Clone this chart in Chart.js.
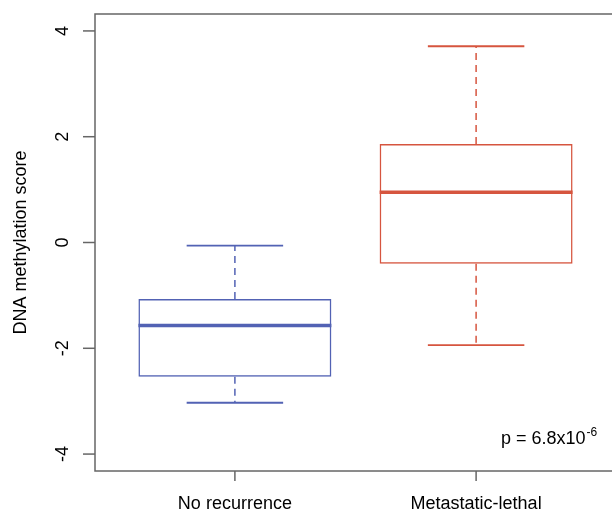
<!DOCTYPE html>
<html>
<head>
<meta charset="utf-8">
<script src="https://cdn.jsdelivr.net/npm/chart.js@4"></script>
<style>
  html, body { margin: 0; padding: 0; background: #fff; overflow: hidden; }
  #wrap { width: 640px; height: 513px; }
</style>
</head>
<body>
<div id="wrap"><canvas id="box" width="640" height="513"></canvas></div>
<script>
// boxplot values
const groups = ['No recurrence', 'Metastatic-lethal'];
const groupX = [1, 2];
const whiskerLow = [-3.03, -1.94];
const q1 = [-2.54, -0.40];
const median = [-1.57, 0.95];
const q3 = [-1.07, 1.86];
const whiskerHigh = [-0.06, 3.71];
const yTicks = [-4, -2, 0, 2, 4];
const colors = ['#5262b4', '#d6553f'];

const FONT = '"Liberation Sans", Arial, Helvetica, sans-serif';
const AXIS = '#666666';

// R-style frame, ticks, whiskers, medians and labels
const boxplotExtras = {
  id: 'boxplotExtras',
  afterDatasetsDraw(chart){
    const ctx = chart.ctx, a = chart.chartArea;
    const xs = chart.scales.x, ys = chart.scales.y;
    ctx.save();

    // whiskers + caps + medians
    groupX.forEach((gx, i)=>{
      const cx = xs.getPixelForValue(gx);
      const capL = xs.getPixelForValue(gx - 0.2), capR = xs.getPixelForValue(gx + 0.2);
      const boxL = xs.getPixelForValue(gx - 0.4), boxR = xs.getPixelForValue(gx + 0.4);
      ctx.strokeStyle = colors[i];
      ctx.lineWidth = 1.5;
      ctx.setLineDash([7, 5]);
      ctx.beginPath();
      ctx.moveTo(cx, ys.getPixelForValue(q3[i])); ctx.lineTo(cx, ys.getPixelForValue(whiskerHigh[i]));
      ctx.moveTo(cx, ys.getPixelForValue(q1[i])); ctx.lineTo(cx, ys.getPixelForValue(whiskerLow[i]));
      ctx.stroke();
      ctx.setLineDash([]);
      ctx.lineWidth = 1.8;
      ctx.beginPath();
      ctx.moveTo(capL, ys.getPixelForValue(whiskerHigh[i])); ctx.lineTo(capR, ys.getPixelForValue(whiskerHigh[i]));
      ctx.moveTo(capL, ys.getPixelForValue(whiskerLow[i])); ctx.lineTo(capR, ys.getPixelForValue(whiskerLow[i]));
      ctx.stroke();
      ctx.lineWidth = 3.5;
      ctx.beginPath();
      ctx.moveTo(boxL, ys.getPixelForValue(median[i])); ctx.lineTo(boxR, ys.getPixelForValue(median[i]));
      ctx.stroke();
    });

    // frame
    ctx.strokeStyle = AXIS;
    ctx.lineWidth = 1.5;
    ctx.strokeRect(a.left, a.top, a.right - a.left, a.bottom - a.top);

    // y ticks + rotated labels
    ctx.fillStyle = '#000';
    ctx.font = '18px ' + FONT;
    ctx.textAlign = 'center';
    ctx.textBaseline = 'alphabetic';
    yTicks.forEach(v=>{
      const py = ys.getPixelForValue(v);
      ctx.beginPath(); ctx.moveTo(a.left - 12, py); ctx.lineTo(a.left, py); ctx.stroke();
      ctx.save(); ctx.translate(68, py); ctx.rotate(-Math.PI/2);
      ctx.fillText(String(v), 0, 0); ctx.restore();
    });

    // x ticks + labels
    groupX.forEach((gx, i)=>{
      const px = xs.getPixelForValue(gx);
      ctx.beginPath(); ctx.moveTo(px, a.bottom); ctx.lineTo(px, a.bottom + 10); ctx.stroke();
      ctx.fillText(groups[i], px, 509);
    });

    // y title
    ctx.save(); ctx.translate(26, (a.top + a.bottom)/2); ctx.rotate(-Math.PI/2);
    ctx.fillText('DNA methylation score', 0, 0); ctx.restore();

    // p-value with superscript
    ctx.textAlign = 'left';
    const base = 'p = 6.8x10';
    ctx.fillText(base, 501, 444);
    const w = ctx.measureText(base).width;
    ctx.font = '12px ' + FONT;
    ctx.fillText('-6', 501 + w + 1, 436);

    ctx.restore();
  }
};

new Chart(document.getElementById('box'), {
  type: 'bar',
  data: {
    datasets: [{
      data: groupX.map((x, i)=>({ x, y: [q1[i], q3[i]] })),
      backgroundColor: 'rgba(255,255,255,0)',
      borderColor: colors,
      borderWidth: 1.5,
      borderSkipped: false,
      categoryPercentage: 0.8,
      barPercentage: 1.0
    }]
  },
  options: {
    responsive: false,
    animation: false,
    layout: { padding: { left: 95, top: 14, right: 24, bottom: 42 } },
    plugins: { legend: { display: false }, tooltip: { enabled: false } },
    scales: {
      x: {
        type: 'linear', min: 0.42, max: 2.58, offset: false, display: false,
        afterBuildTicks: s => { s.ticks = groupX.map(v => ({ value: v })); }
      },
      y: { type: 'linear', min: -4.32, max: 4.32, display: false }
    }
  },
  plugins: [boxplotExtras]
});
</script>
</body>
</html>
